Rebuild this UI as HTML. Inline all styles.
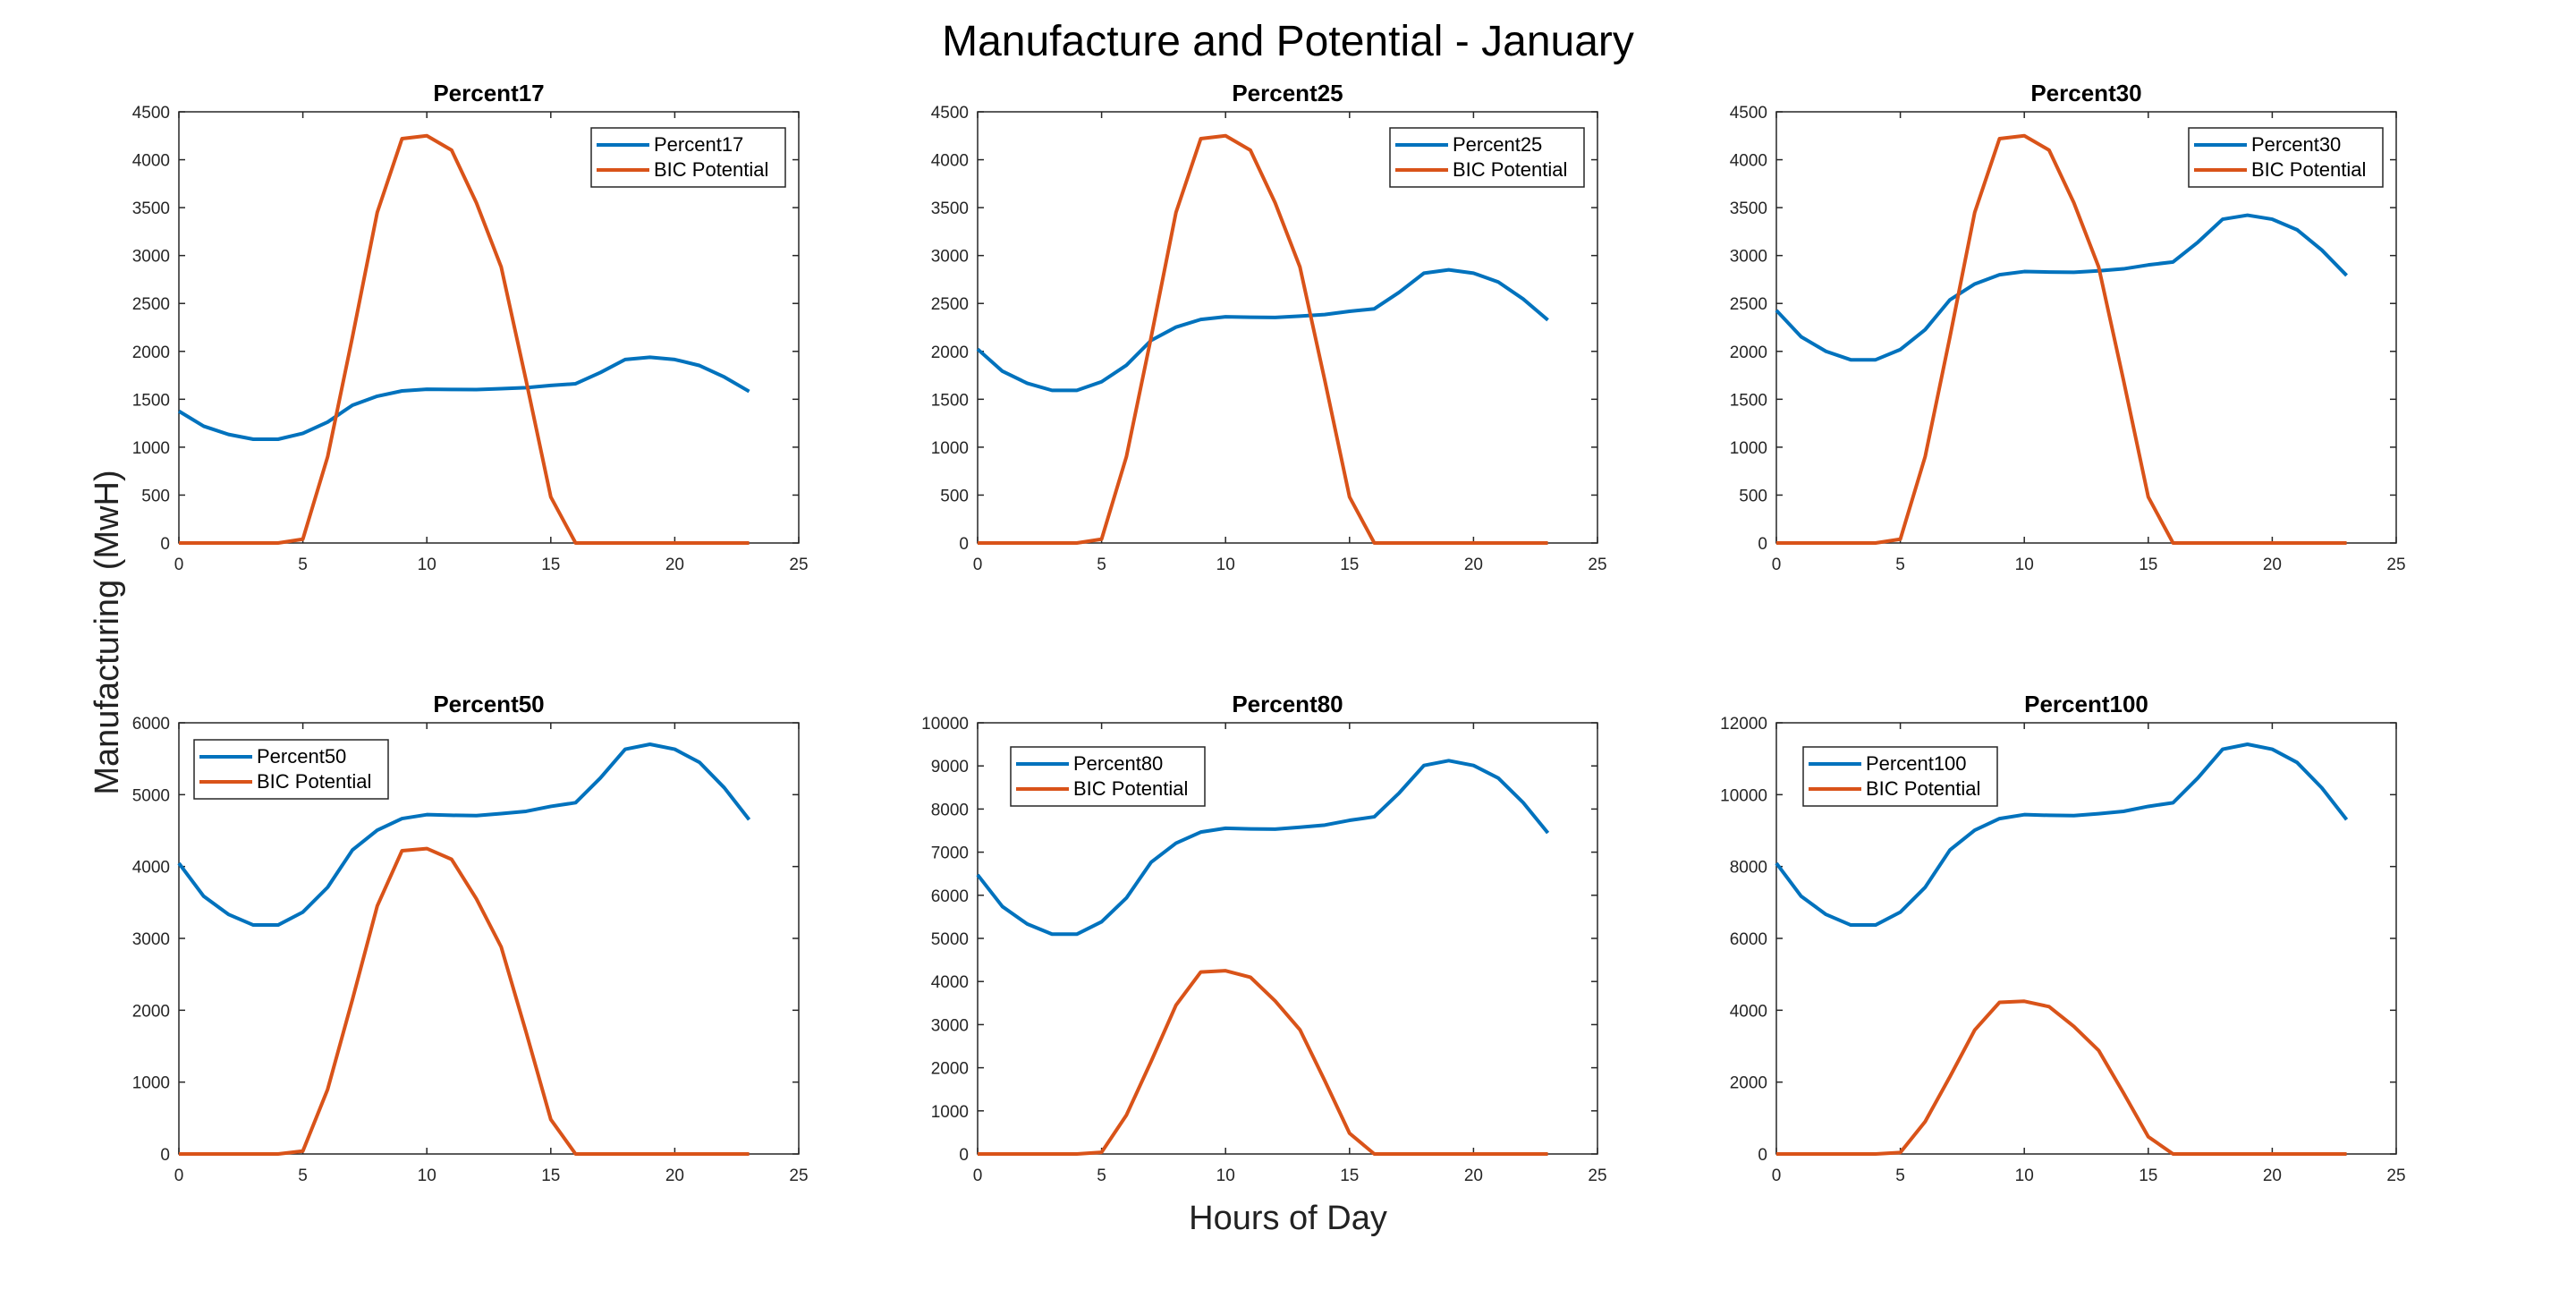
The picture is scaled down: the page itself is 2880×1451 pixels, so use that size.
<!DOCTYPE html>
<html><head><meta charset="utf-8">
<style>
html,body{margin:0;padding:0;background:#fff;}
svg{display:block;font-family:"Liberation Sans",Arial,sans-serif;}
</style></head>
<body>
<svg id="fig" width="2880" height="1451" viewBox="0 0 2880 1451" xmlns="http://www.w3.org/2000/svg">
<rect width="2880" height="1451" fill="#fff"/>
<text x="1440" y="62" font-size="48" text-anchor="middle" fill="#000">Manufacture and Potential - January</text>
<text x="0" y="0" font-size="38" text-anchor="middle" fill="#222" transform="translate(132,707) rotate(-90)">Manufacturing (MwH)</text>
<text x="1440" y="1374" font-size="38" text-anchor="middle" fill="#222">Hours of Day</text>
<g id="plots"></g>
</svg>
<script>
const hours = [0,1,2,3,4,5,6,7,8,9,10,11,12,13,14,15,16,17,18,19,20,21,22,23];
const bicPotential = [0,0,0,0,0,40,900,2150,3450,4220,4250,4100,3550,2880,1700,480,0,0,0,0,0,0,0,0];
const percent17 = [1376,1219,1133,1083,1083,1144,1262,1438,1532,1587,1605,1602,1601,1610,1621,1644,1662,1779,1915,1938,1915,1852,1732,1582];
const percent25 = [2023,1793,1667,1593,1593,1683,1855,2115,2253,2333,2361,2356,2354,2368,2384,2418,2444,2616,2816,2851,2816,2724,2547,2327];
const percent30 = [2428,2152,2000,1912,1912,2019,2226,2538,2703,2800,2833,2828,2825,2841,2861,2902,2933,3139,3379,3421,3379,3269,3057,2792];
const percent50 = [4046,3586,3334,3186,3186,3366,3711,4230,4506,4667,4722,4713,4708,4736,4768,4837,4888,5232,5632,5701,5632,5449,5095,4653];
const percent80 = [6474,5738,5334,5098,5098,5385,5937,6768,7209,7466,7555,7540,7533,7577,7628,7738,7820,8371,9011,9122,9011,8718,8151,7445];
const percent100 = [8092,7172,6667,6372,6372,6731,7421,8460,9011,9333,9444,9425,9416,9471,9535,9673,9775,10464,11264,11402,11264,10897,10189,9306];
const xTicks = [0,5,10,15,20,25];
const yTicks17 = [0,500,1000,1500,2000,2500,3000,3500,4000,4500];
const yTicks50 = [0,1000,2000,3000,4000,5000,6000];
const yTicks80 = [0,1000,2000,3000,4000,5000,6000,7000,8000,9000,10000];
const yTicks100 = [0,2000,4000,6000,8000,10000,12000];
const seriesNames = ["Percent17","Percent25","Percent30","Percent50","Percent80","Percent100"];

const NS="http://www.w3.org/2000/svg";
const root=document.getElementById('plots');
function mk(tag,attrs,parent){const e=document.createElementNS(NS,tag);for(const k in attrs)e.setAttribute(k,attrs[k]);parent.appendChild(e);return e;}

const panels=[
 {name:seriesNames[0],data:percent17,ticks:yTicks17,L:200,T:125,legend:'right'},
 {name:seriesNames[1],data:percent25,ticks:yTicks17,L:1093,T:125,legend:'right'},
 {name:seriesNames[2],data:percent30,ticks:yTicks17,L:1986,T:125,legend:'right'},
 {name:seriesNames[3],data:percent50,ticks:yTicks50,L:200,T:808,legend:'left'},
 {name:seriesNames[4],data:percent80,ticks:yTicks80,L:1093,T:808,legend:'left'},
 {name:seriesNames[5],data:percent100,ticks:yTicks100,L:1986,T:808,legend:'left'}
];
const W=693,H=482;
panels.forEach(p=>{
  const g=mk('g',{},root);
  
  
  const ymax=p.ticks[p.ticks.length-1];
  const sx=v=>p.L+v/25*W;
  const sy=v=>p.T+H-v/ymax*H;
  const t=mk('text',{x:p.L+W/2,y:p.T-12,'font-size':26,'font-weight':'bold','text-anchor':'middle',fill:'#000'},g);
  t.textContent=p.name;
  
  
  const box=mk('rect',{x:p.L,y:p.T,width:W,height:H,fill:'none',stroke:'#262626','stroke-width':1.5},g);
  
  
  xTicks.forEach(v=>{
    mk('line',{x1:sx(v),x2:sx(v),y1:p.T+H,y2:p.T+H-7,stroke:'#262626','stroke-width':1.5},g);
    mk('line',{x1:sx(v),x2:sx(v),y1:p.T,y2:p.T+7,stroke:'#262626','stroke-width':1.5},g);
    const l=mk('text',{x:sx(v),y:p.T+H+30,'font-size':19,'text-anchor':'middle',fill:'#262626'},g);
    l.textContent=v;
    
    
  });
  p.ticks.forEach(v=>{
    mk('line',{x1:p.L,x2:p.L+7,y1:sy(v),y2:sy(v),stroke:'#262626','stroke-width':1.5},g);
    mk('line',{x1:p.L+W,x2:p.L+W-7,y1:sy(v),y2:sy(v),stroke:'#262626','stroke-width':1.5},g);
    const l=mk('text',{x:p.L-10,y:sy(v)+7,'font-size':19,'text-anchor':'end',fill:'#262626'},g);
    l.textContent=v;
    
    
  });
  const pts1=hours.map((h,i)=>sx(h)+','+sy(p.data[i])).join(' ');
  const pts2=hours.map((h,i)=>sx(h)+','+sy(bicPotential[i])).join(' ');
  const l1=mk('polyline',{points:pts1,fill:'none',stroke:'#0072BD','stroke-width':4,'stroke-linejoin':'round'},g);
  
  
  const l2=mk('polyline',{points:pts2,fill:'none',stroke:'#D95319','stroke-width':4,'stroke-linejoin':'round'},g);
  
  
  const lw=217,lh=66;
  const lx=p.legend==='right'?p.L+W-15-lw:p.L+(p.name==='Percent50'?17:(p.name==='Percent80'?37:30));
  const ly=p.legend==='right'?p.T+18:p.T+(p.name==='Percent50'?19:27);
  const lg=mk('g',{},g);
  
  
  mk('rect',{x:lx,y:ly,width:lw,height:lh,fill:'#fff',stroke:'#262626','stroke-width':1.5},lg);
  mk('line',{x1:lx+6,x2:lx+65,y1:ly+19,y2:ly+19,stroke:'#0072BD','stroke-width':4},lg);
  mk('line',{x1:lx+6,x2:lx+65,y1:ly+47,y2:ly+47,stroke:'#D95319','stroke-width':4},lg);
  const e1=mk('text',{x:lx+70,y:ly+26,'font-size':22,fill:'#000'},lg);
  e1.textContent=p.name;
  
  
  const e2=mk('text',{x:lx+70,y:ly+54,'font-size':22,fill:'#000'},lg);
  e2.textContent='BIC Potential';
  
  
});
</script>
</body></html>
